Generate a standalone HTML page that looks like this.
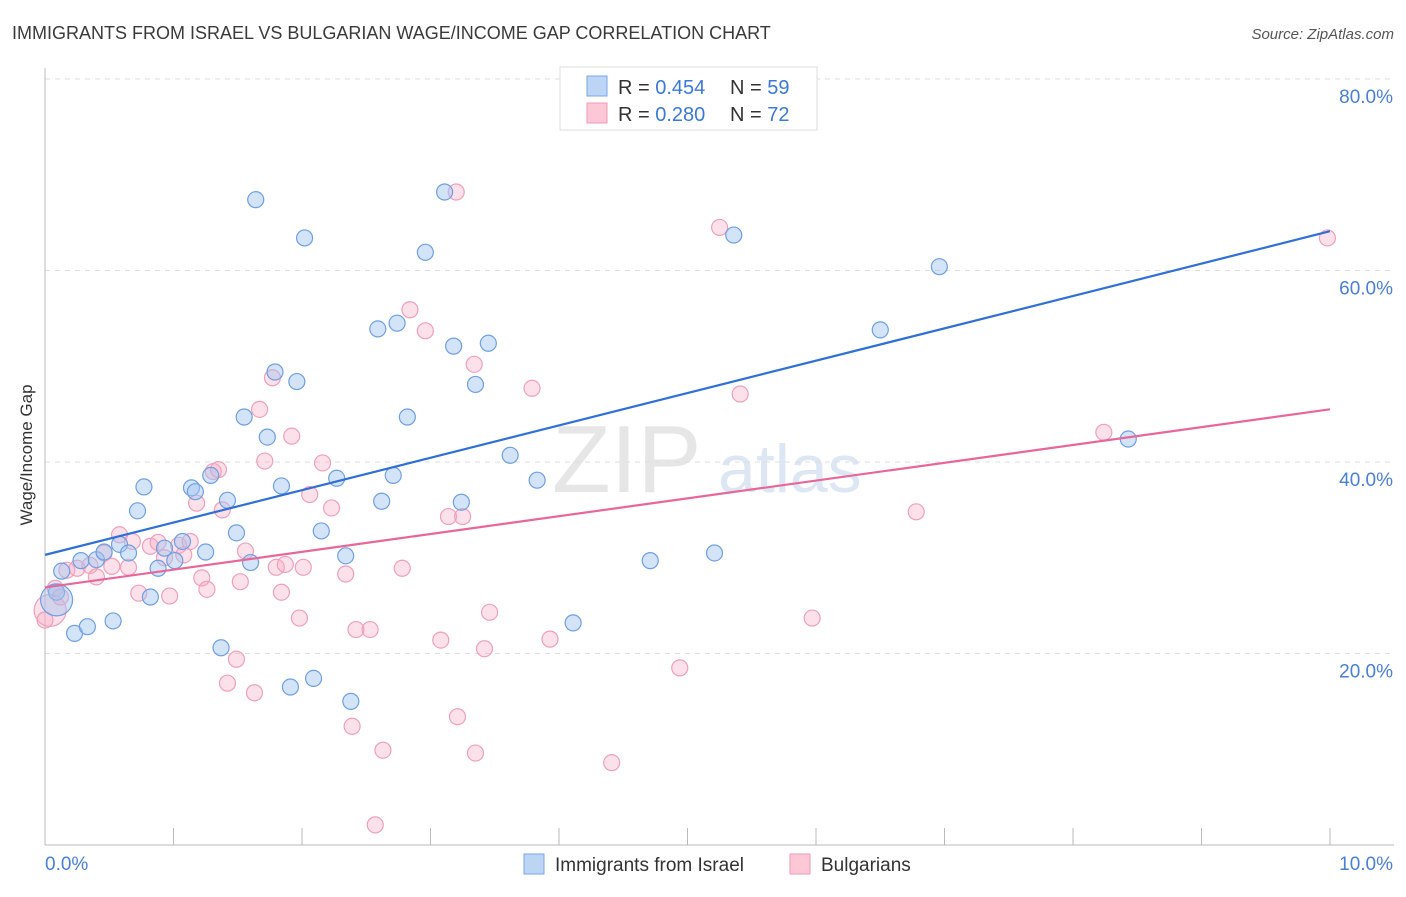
<!DOCTYPE html>
<html><head><meta charset="utf-8"><style>
body{margin:0;background:#fff;font-family:"Liberation Sans",sans-serif;}
svg text{font-family:"Liberation Sans",sans-serif;}
</style></head><body>
<svg id="chart" width="1406" height="892">
<text x="12" y="39" font-size="18" fill="#3a3a3a">IMMIGRANTS FROM ISRAEL VS BULGARIAN WAGE/INCOME GAP CORRELATION CHART</text>
<text x="1394" y="39" font-size="15" fill="#555" font-style="italic" text-anchor="end">Source: ZipAtlas.com</text>
<text x="32" y="455" font-size="17" fill="#333" text-anchor="middle" transform="rotate(-90 32 455)">Wage/Income Gap</text>
<text x="552" y="492" font-size="96" fill="#e6e6e6" font-family="Liberation Serif">ZIP</text>
<text x="718" y="492" font-size="68" fill="#dde6f3">atlas</text>
<g id="grid"></g><g id="axes"></g><g id="pts"></g><g id="lines"></g>
<g>
<rect x="560" y="67" width="257" height="63" fill="#fff" stroke="#ddd"/>
<rect x="587" y="76" width="20" height="20" fill="#bcd5f5" stroke="#7aa6e6"/>
<rect x="587" y="103" width="20" height="20" fill="#fcc8d8" stroke="#f09ab6"/>
<text x="618" y="94" font-size="20" fill="#333">R = <tspan fill="#3b78d8">0.454</tspan></text>
<text x="730" y="94" font-size="20" fill="#333">N = <tspan fill="#3b78d8">59</tspan></text>
<text x="618" y="121" font-size="20" fill="#333">R = <tspan fill="#3b78d8">0.280</tspan></text>
<text x="730" y="121" font-size="20" fill="#333">N = <tspan fill="#3b78d8">72</tspan></text>
</g>
<g>
<rect x="524" y="854" width="20" height="20" fill="#bcd5f5" stroke="#7aa6e6"/>
<text x="555" y="871" font-size="19" fill="#333">Immigrants from Israel</text>
<rect x="790" y="854" width="20" height="20" fill="#fcc8d8" stroke="#f09ab6"/>
<text x="821" y="871" font-size="19" fill="#333">Bulgarians</text>
</g>
</svg>
<script>
const blueX=[0.09,0.13,0.23,0.33,0.28,0.40,0.46,0.53,0.58,0.65,0.72,0.77,0.82,0.88,0.93,1.01,1.07,1.14,1.17,1.25,1.29,1.37,1.42,1.49,1.55,1.60,1.64,1.73,1.79,1.84,1.91,1.96,2.02,2.09,2.15,2.27,2.34,2.38,2.59,2.62,2.71,2.74,2.82,2.96,3.11,3.18,3.24,3.35,3.45,3.62,3.83,4.11,4.71,5.21,5.36,6.50,6.96,8.43,0.09];
const blueY=[26.4,28.6,22.1,22.8,29.7,29.8,30.6,23.4,31.4,30.5,34.9,37.4,25.9,28.9,31.0,29.7,31.7,37.3,36.9,30.6,38.6,20.6,36.0,32.6,44.7,29.5,67.4,42.6,49.4,37.5,16.5,48.4,63.4,17.4,32.8,38.3,30.2,15.0,53.9,35.9,38.6,54.5,44.7,61.9,68.2,52.1,35.8,48.1,52.4,40.7,38.1,23.2,29.7,30.5,63.7,53.8,60.4,42.4,25.6];
const blueR=[8,8,8,8,8,8,8,8,8,8,8,8,8,8,8,8,8,8,8,8,8,8,8,8,8,8,8,8,8,8,8,8,8,8,8,8,8,8,8,8,8,8,8,8,8,8,8,8,8,8,8,8,8,8,8,8,8,8,16];
const pinkX=[0.04,0.08,0.12,0.17,0.25,0.35,0.40,0.46,0.52,0.58,0.65,0.68,0.73,0.82,0.88,0.93,0.97,1.04,1.08,1.13,1.18,1.22,1.26,1.31,1.38,1.42,1.49,1.52,1.56,1.63,1.67,1.71,1.80,1.84,1.87,1.92,1.98,2.01,2.06,2.16,2.23,2.34,2.39,2.42,2.53,2.57,2.63,2.78,2.84,2.96,3.08,3.14,3.21,3.25,3.34,3.35,3.42,3.46,3.79,3.93,4.41,4.94,5.25,5.41,5.97,6.78,8.24,9.98,3.20,1.77,1.35,0.0];
const pinkY=[24.5,26.8,25.9,28.7,28.9,29.2,28.0,30.5,29.1,32.4,29.0,31.7,26.3,31.2,31.6,30.0,26.0,31.3,30.3,31.7,35.7,27.9,26.7,39.0,35.0,16.9,19.4,27.5,30.7,15.9,45.5,40.1,29.0,26.4,29.3,42.7,23.7,29.0,36.6,39.9,35.2,28.3,12.4,22.5,22.5,2.1,9.9,28.9,55.9,53.7,21.4,34.3,13.4,34.3,50.2,9.6,20.5,24.3,47.7,21.5,8.6,18.5,64.5,47.1,23.7,34.8,43.1,63.4,68.2,48.8,39.2,23.5];
const blueLine=[30.3,64.1];
const pinkLine=[26.9,45.5];
const yTicks=[20,40,60,80];
const yTickLabels=["20.0%","40.0%","60.0%","80.0%"];
const xLabels=["0.0%","10.0%"];
const X0=45,X1=1330,Y0=845,PPY=9.575;
const sx=v=>X0+(X1-X0)*v/10, sy=v=>Y0-v*PPY;
const NS="http://www.w3.org/2000/svg";
function mk(t,a,p){const e=document.createElementNS(NS,t);for(const k in a)e.setAttribute(k,a[k]);p.appendChild(e);return e;}
const grid=document.getElementById('grid'),axes=document.getElementById('axes'),pts=document.getElementById('pts'),lines=document.getElementById('lines');
yTicks.forEach((t,i)=>{
 const g=mk('line',{x1:X0,x2:1394,y1:sy(t),y2:sy(t),stroke:'#ddd','stroke-dasharray':'5,5'},grid);
 
 
 const l=mk('text',{x:1393,y:sy(t)+24,'font-size':19,fill:'#4a7fd4','text-anchor':'end'},axes);
 l.textContent=yTickLabels[i];
 
 
});
const ya=mk('line',{x1:X0,x2:X0,y1:68,y2:Y0,stroke:'#bbb'},axes);


const xa=mk('line',{x1:X0,x2:1394,y1:Y0,y2:Y0,stroke:'#bbb'},axes);


for(let k=1;k<=10;k++){
 const tk=mk('line',{x1:sx(k),x2:sx(k),y1:828,y2:Y0,stroke:'#bbb'},axes);
 
 
}
const xl0=mk('text',{x:45,y:870,'font-size':19,fill:'#4a7fd4'},axes);xl0.textContent=xLabels[0];


const xl1=mk('text',{x:1393,y:870,'font-size':19,fill:'#4a7fd4','text-anchor':'end'},axes);xl1.textContent=xLabels[1];


pinkX.forEach((x,i)=>{
 const c=mk('circle',{cx:sx(x),cy:sy(pinkY[i]),r:i===0?16:8,fill:'rgba(248,170,195,0.35)',stroke:'#eea0bb','stroke-width':1.2},pts);
 
 
});
blueX.forEach((x,i)=>{
 const c=mk('circle',{cx:sx(x),cy:sy(blueY[i]),r:blueR[i],fill:'rgba(160,195,240,0.45)',stroke:'#6f9fe0','stroke-width':1.2},pts);
 
 
});
const bl=mk('line',{x1:sx(0),y1:sy(blueLine[0]),x2:sx(10),y2:sy(blueLine[1]),stroke:'#2f6fd6','stroke-width':2.2},lines);


const pl=mk('line',{x1:sx(0),y1:sy(pinkLine[0]),x2:sx(10),y2:sy(pinkLine[1]),stroke:'#e8679a','stroke-width':2.2},lines);


</script>
</body></html>
